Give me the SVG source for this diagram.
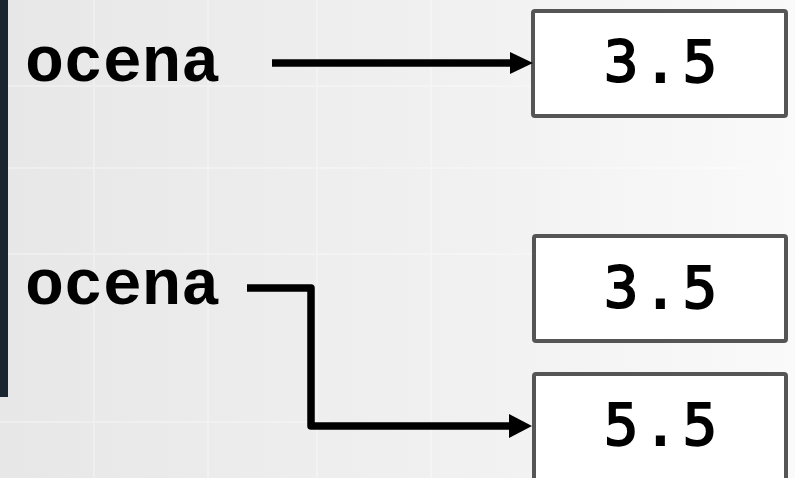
<svg xmlns="http://www.w3.org/2000/svg" width="795" height="478" viewBox="0 0 795 478">
<defs>
<linearGradient id="bg" x1="0" y1="0" x2="1" y2="0">
<stop offset="0" stop-color="#e7e7e7"/>
<stop offset="0.6" stop-color="#f1f1f1"/>
<stop offset="1" stop-color="#fafafa"/>
</linearGradient>
<style>
.lbl{font-family:"Liberation Mono","Courier New",monospace;font-weight:bold;font-size:65px;fill:#000}
.val{font-family:"DejaVu Sans Mono",monospace;font-size:57px;letter-spacing:5px;fill:#000;stroke:#000;stroke-width:2;text-anchor:middle}
.box{fill:#fff;stroke:#555;stroke-width:4}
.wire{fill:none;stroke:#000;stroke-width:7.5;stroke-linejoin:round}
.head{fill:#000}
.grid{stroke:#fff;stroke-width:2;opacity:0.3}
</style>
</defs>
<rect width="795" height="478" fill="url(#bg)"/>
<g class="grid">
<line x1="0" y1="86" x2="795" y2="86"/>
<line x1="0" y1="168" x2="795" y2="168"/>
<line x1="0" y1="254" x2="795" y2="254"/>
<line x1="0" y1="422" x2="330" y2="422"/>
<line x1="94" y1="0" x2="94" y2="478"/>
<line x1="208" y1="0" x2="208" y2="478"/>
<line x1="317" y1="0" x2="317" y2="478"/>
<line x1="431" y1="0" x2="431" y2="478"/>
</g>
<rect x="0" y="0" width="8" height="397" fill="#1b2530"/>
<g id="label1"><text class="lbl" x="25" y="81">ocena</text></g>
<g id="label2"><text class="lbl" x="25" y="304">ocena</text></g>
<g id="box1"><rect class="box" x="533" y="11" width="253" height="105" rx="2"/><text class="val" x="663" y="82">3.5</text></g>
<g id="box2"><rect class="box" x="534" y="236" width="252" height="105" rx="2"/><text class="val" x="663" y="308">3.5</text></g>
<g id="box3"><rect class="box" x="534" y="374" width="252" height="112" rx="2"/><text class="val" x="663" y="445">5.5</text></g>
<g id="connectors">
<path class="wire" d="M272,63 H514"/>
<polygon class="head" points="533,63 510,52 510,74"/>
<path class="wire" d="M247,288 H311 V426 H513"/>
<polygon class="head" points="532,426 509,414 509,438"/>
</g>
</svg>
